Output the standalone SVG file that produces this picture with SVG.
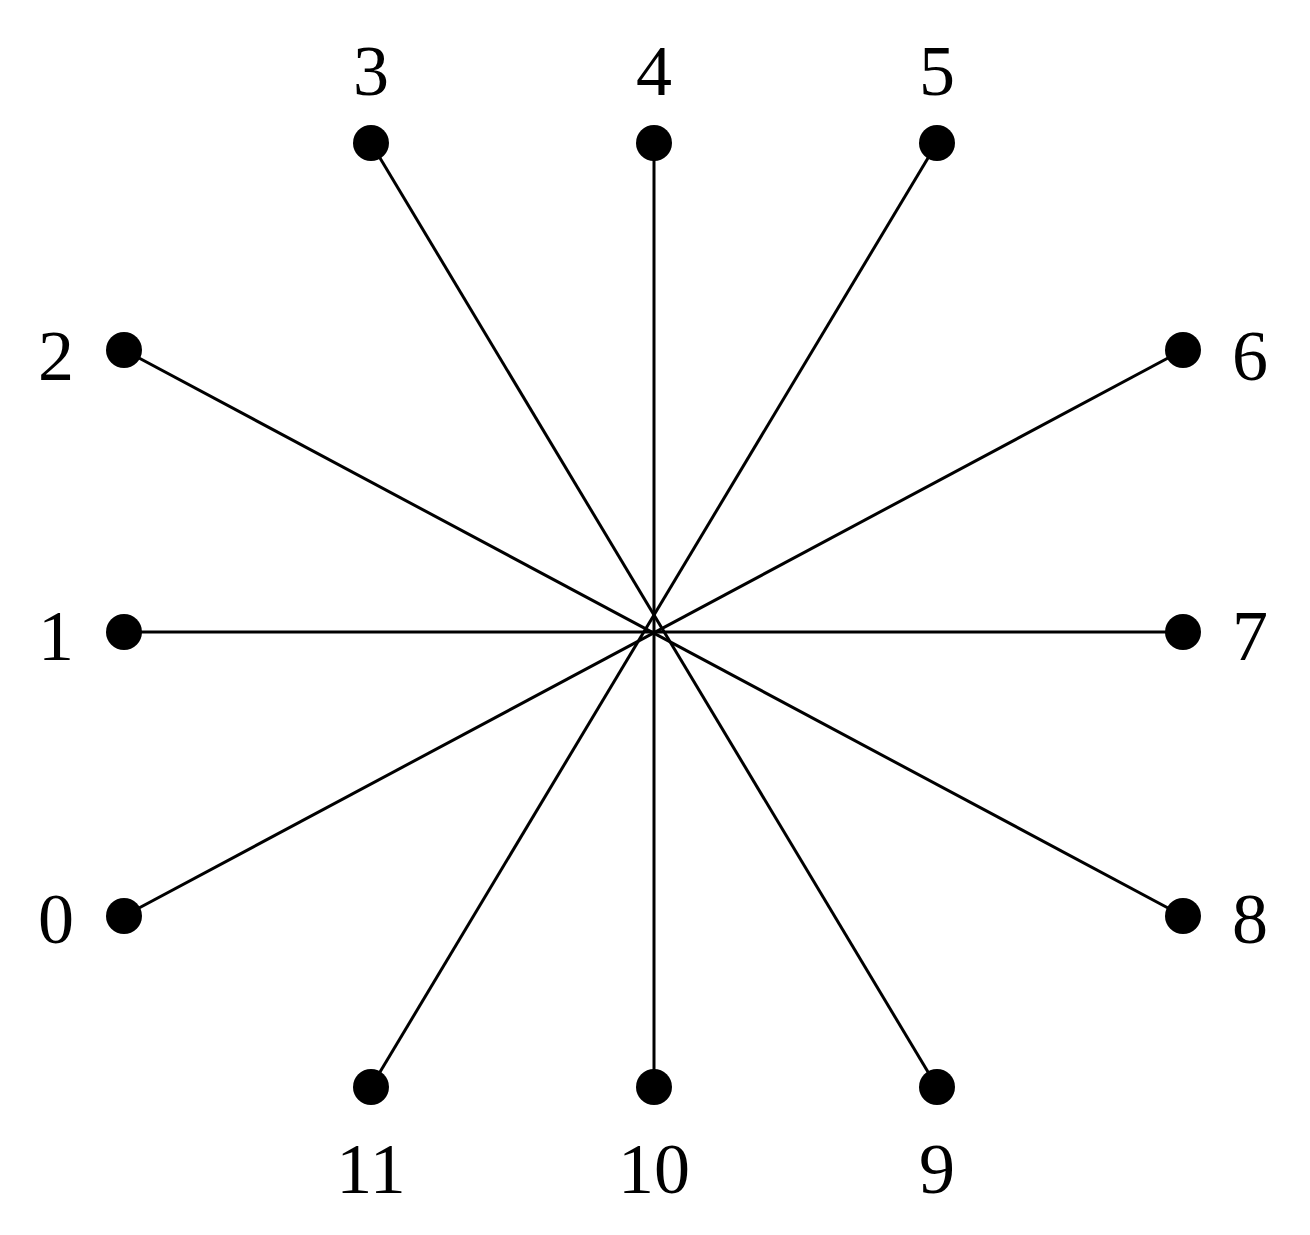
<svg xmlns="http://www.w3.org/2000/svg" width="1310" height="1235" viewBox="0 0 1310 1235">
<style>
.e{stroke:#000;stroke-width:3;fill:none}
.n{fill:#000}
text{font-family:"Liberation Serif",serif;font-size:72px;text-anchor:middle;fill:#000}
</style>
<rect width="1310" height="1235" fill="#fff"/>
<g id="connectors">
<line class="e" x1="124" y1="916" x2="1183" y2="350"/>
<line class="e" x1="124" y1="632" x2="1183" y2="632"/>
<line class="e" x1="124" y1="350" x2="1183" y2="916"/>
<line class="e" x1="371" y1="143" x2="937" y2="1087"/>
<line class="e" x1="654" y1="143" x2="654" y2="1087"/>
<line class="e" x1="937" y1="143" x2="371" y2="1087"/>
</g>
<g id="n0"><circle class="n" cx="124" cy="916" r="18"/><text x="56" y="943">0</text></g>
<g id="n1"><circle class="n" cx="124" cy="632" r="18"/><text x="56" y="660">1</text></g>
<g id="n2"><circle class="n" cx="124" cy="350" r="18"/><text x="56" y="380">2</text></g>
<g id="n3"><circle class="n" cx="371" cy="143" r="18"/><text x="371" y="95">3</text></g>
<g id="n4"><circle class="n" cx="654" cy="143" r="18"/><text x="654" y="95">4</text></g>
<g id="n5"><circle class="n" cx="937" cy="143" r="18"/><text x="937" y="95">5</text></g>
<g id="n6"><circle class="n" cx="1183" cy="350" r="18"/><text x="1250" y="380">6</text></g>
<g id="n7"><circle class="n" cx="1183" cy="632" r="18"/><text x="1250" y="660">7</text></g>
<g id="n8"><circle class="n" cx="1183" cy="916" r="18"/><text x="1250" y="943">8</text></g>
<g id="n9"><circle class="n" cx="937" cy="1087" r="18"/><text x="937" y="1193">9</text></g>
<g id="n10"><circle class="n" cx="654" cy="1087" r="18"/><text x="654" y="1193">10</text></g>
<g id="n11"><circle class="n" cx="371" cy="1087" r="18"/><text x="371" y="1193">11</text></g>
</svg>
